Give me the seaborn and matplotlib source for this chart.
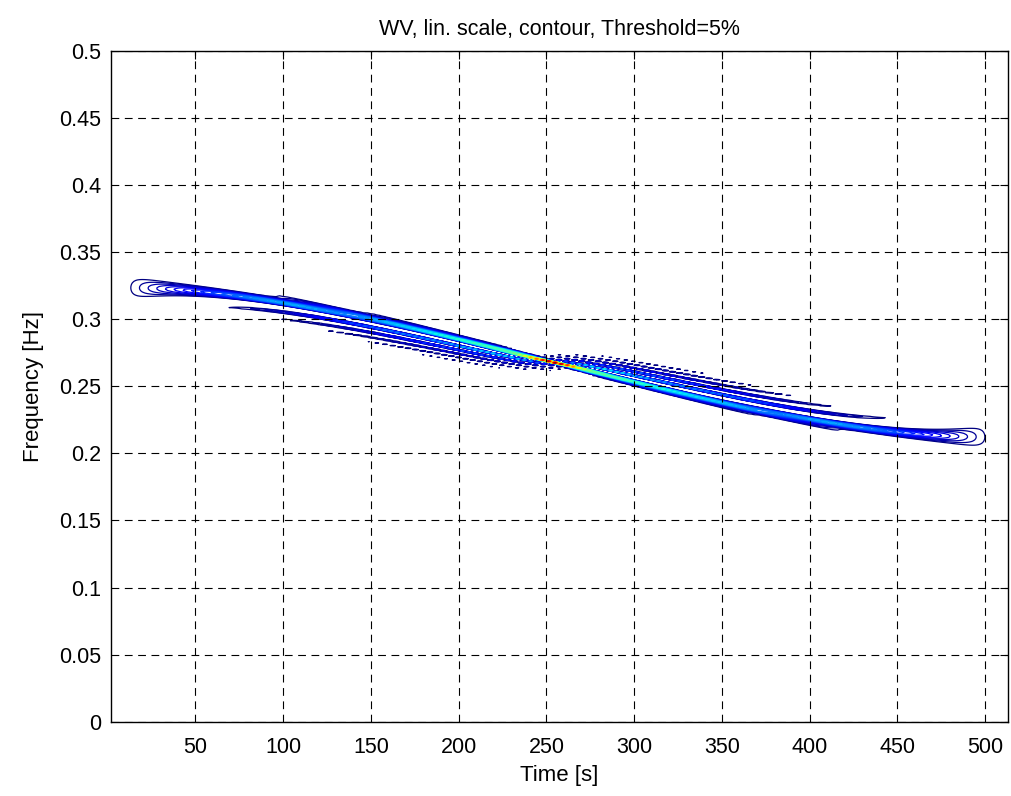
import numpy as np
import seaborn as sns
import matplotlib
matplotlib.use('Agg')
import matplotlib.pyplot as plt
from matplotlib.ticker import FuncFormatter

# instantaneous frequency of the signal
if_time = [1, 19, 100, 150, 200, 256, 300, 350, 400, 450, 494, 512]
if_freq = [0.3235, 0.323, 0.3135, 0.302, 0.2865, 0.268, 0.2515, 0.236, 0.2235, 0.216, 0.2125, 0.212]
n_samples = 512
threshold = 0.05
n_levels = 50
x_ticks = [50, 100, 150, 200, 250, 300, 350, 400, 450, 500]
y_ticks = [0, 0.05, 0.1, 0.15, 0.2, 0.25, 0.3, 0.35, 0.4, 0.45, 0.5]

sns.set_style('white')
plt.rcParams['font.family'] = ['Liberation Sans', 'DejaVu Sans']
plt.rcParams['text.color'] = 'black'
plt.rcParams['axes.labelcolor'] = 'black'

# signal with that frequency law, then its Wigner-Ville distribution
t = np.arange(1, n_samples + 1)
coef = np.polyfit(if_time, if_freq, 3)
finst = np.polyval(coef, t)
sig = np.exp(1j * 2 * np.pi * np.cumsum(finst))

N = n_samples
tfr = np.zeros((N, N), dtype=complex)
for i in range(N):
    taumax = min(i, N - 1 - i, N // 2 - 1)
    tau = np.arange(-taumax, taumax + 1)
    tfr[tau % N, i] = sig[i + tau] * np.conj(sig[i - tau])
tfr = np.real(np.fft.fft(tfr, axis=0))
freqs = 0.5 * np.arange(N) / N

top = tfr.max()
levels = np.linspace(threshold * top, top, n_levels)

fig = plt.figure(figsize=(10.11, 7.96), dpi=100)
ax = fig.add_axes([0.110, 0.0933, 0.887, 0.843])
ax.contour(t, freqs, tfr, levels=levels, cmap='jet', linewidths=0.9)

ax.set_xlim(2, 513)
ax.set_ylim(0, 0.5)
ax.set_xticks(x_ticks)
ax.set_yticks(y_ticks)
ax.yaxis.set_major_formatter(FuncFormatter(lambda v, p: f'{v:g}'))
ax.grid(True, color='black', linestyle=(0, (7, 5)), linewidth=0.8)
ax.set_axisbelow(False)
ax.tick_params(direction='in', length=6, width=0.8, top=True, right=True,
               labelsize=15.5, pad=7, colors='black')
ax.tick_params(axis='x', pad=11)
for s in ax.spines.values():
    s.set_color('black')
    s.set_linewidth(1.0)

ax.set_title('WV, lin. scale, contour, Threshold=5%', fontsize=15.5, pad=11, color='black')
ax.set_xlabel('Time [s]', fontsize=16, labelpad=5)
ax.set_ylabel('Frequency [Hz]', fontsize=16, labelpad=11)

fig.savefig('out.png', dpi=100, facecolor='white')
